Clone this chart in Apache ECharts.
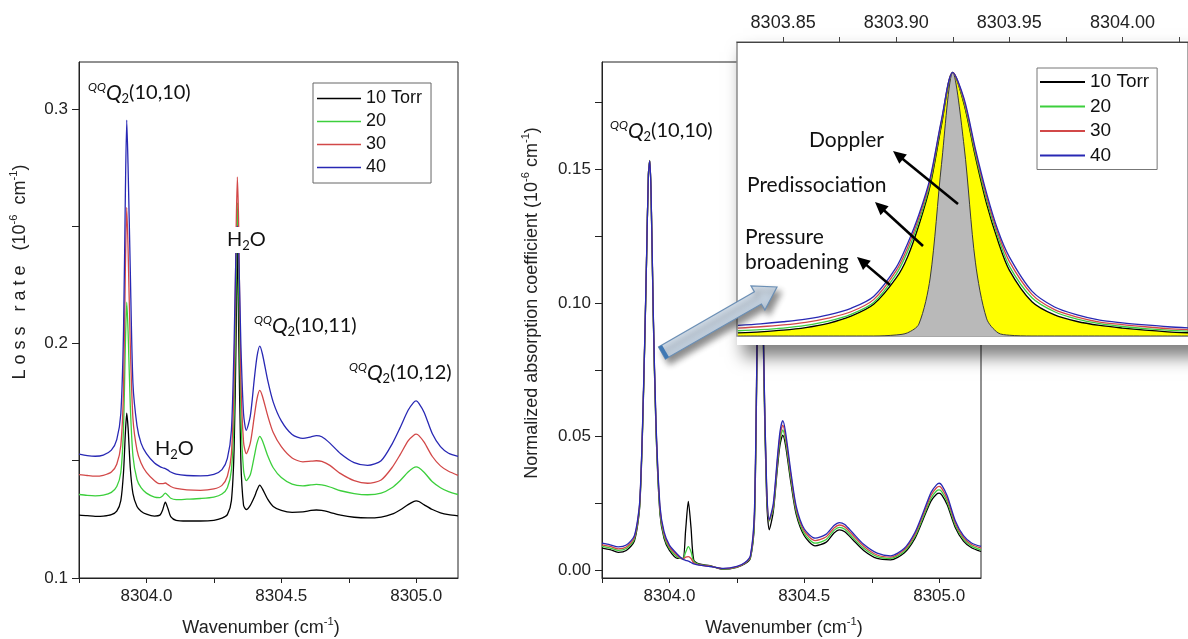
<!DOCTYPE html>
<html><head><meta charset="utf-8">
<script src="https://cdn.jsdelivr.net/npm/echarts@6/dist/echarts.min.js"></script>
<style>html,body{margin:0;padding:0;background:#fff}#c{width:1188px;height:639px}</style>
</head><body><div id="c"></div>
<script>
// ---------- DATA ----------
const seriesNames = ['10 Torr', '20', '30', '40'];

const wavenumber = [8303.75, 8303.78, 8303.81, 8303.84, 8303.87, 8303.89, 8303.905, 8303.915, 8303.922, 8303.927,
  8303.932, 8303.94, 8303.95, 8303.965, 8303.98, 8304.00, 8304.03, 8304.05, 8304.06, 8304.07,
  8304.08, 8304.09, 8304.11, 8304.15, 8304.20, 8304.25, 8304.28, 8304.30, 8304.315, 8304.325,
  8304.332, 8304.337, 8304.342, 8304.35, 8304.36, 8304.37, 8304.385, 8304.40, 8304.41, 8304.42,
  8304.43, 8304.45, 8304.47, 8304.50, 8304.54, 8304.58, 8304.61, 8304.63, 8304.65, 8304.68,
  8304.72, 8304.77, 8304.82, 8304.87, 8304.91, 8304.94, 8304.97, 8304.99, 8305.00, 8305.01,
  8305.03, 8305.06, 8305.09, 8305.12, 8305.155];

// Left panel: loss rate (10^-6 cm^-1)
const loss10 = [0.1268, 0.1266, 0.1263, 0.1264, 0.1270, 0.1285, 0.1330, 0.1450, 0.1620, 0.1703,
  0.1640, 0.1470, 0.1360, 0.1305, 0.1285, 0.1272, 0.1264, 0.1268, 0.1290, 0.1323,
  0.1295, 0.1262, 0.1246, 0.1243, 0.1243, 0.1246, 0.1255, 0.1270, 0.1330, 0.1550,
  0.2000, 0.2450, 0.2050, 0.1500, 0.1310, 0.1292, 0.1310, 0.1345, 0.1375, 0.1396,
  0.1380, 0.1335, 0.1305, 0.1288, 0.1280, 0.1282, 0.1288, 0.1290, 0.1288, 0.1280,
  0.1268, 0.1259, 0.1256, 0.1260, 0.1272, 0.1290, 0.1313, 0.1326, 0.1329, 0.1326,
  0.1312, 0.1292, 0.1278, 0.1270, 0.1265];
const loss20 = [0.1356, 0.1352, 0.1350, 0.1353, 0.1365, 0.1390, 0.1450, 0.1640, 0.2000, 0.2176,
  0.2050, 0.1740, 0.1520, 0.1420, 0.1385, 0.1362, 0.1345, 0.1343, 0.1350, 0.1362,
  0.1352, 0.1340, 0.1334, 0.1336, 0.1339, 0.1345, 0.1358, 0.1385, 0.1460, 0.1700,
  0.2250, 0.2600, 0.2300, 0.1700, 0.1460, 0.1415, 0.1440, 0.1520, 0.1575, 0.1604,
  0.1585, 0.1520, 0.1470, 0.1428, 0.1400, 0.1393, 0.1397, 0.1399, 0.1397, 0.1388,
  0.1372, 0.1360, 0.1355, 0.1362, 0.1385, 0.1415, 0.1452, 0.1470, 0.1474, 0.1470,
  0.1450, 0.1410, 0.1385, 0.1368, 0.1356];
const loss30 = [0.1441, 0.1437, 0.1434, 0.1438, 0.1452, 0.1485, 0.1565, 0.1800, 0.2330, 0.2580,
  0.2400, 0.2000, 0.1680, 0.1545, 0.1490, 0.1450, 0.1415, 0.1402, 0.1402, 0.1405,
  0.1398, 0.1390, 0.1382, 0.1376, 0.1374, 0.1380, 0.1395, 0.1434, 0.1530, 0.1850,
  0.2450, 0.2710, 0.2500, 0.1850, 0.1580, 0.1530, 0.1575, 0.1690, 0.1765, 0.1800,
  0.1775, 0.1690, 0.1620, 0.1560, 0.1512, 0.1495, 0.1498, 0.1500, 0.1497, 0.1480,
  0.1445, 0.1415, 0.1404, 0.1418, 0.1470, 0.1525, 0.1585, 0.1608, 0.1613, 0.1607,
  0.1578, 0.1518, 0.1478, 0.1455, 0.1438];
const loss40 = [0.1528, 0.1522, 0.1519, 0.1524, 0.1545, 0.1590, 0.1700, 0.2050, 0.2650, 0.2952,
  0.2750, 0.2320, 0.1830, 0.1650, 0.1575, 0.1530, 0.1490, 0.1475, 0.1470, 0.1466,
  0.1460, 0.1452, 0.1443, 0.1437, 0.1435, 0.1442, 0.1462, 0.1510, 0.1630, 0.2000,
  0.2400, 0.2500, 0.2400, 0.2000, 0.1700, 0.1630, 0.1690, 0.1850, 0.1945, 0.1989,
  0.1955, 0.1840, 0.1750, 0.1670, 0.1612, 0.1595, 0.1602, 0.1607, 0.1602, 0.1575,
  0.1530, 0.1492, 0.1480, 0.1500, 0.1570, 0.1640, 0.1715, 0.1748, 0.1755, 0.1745,
  0.1705, 0.1615, 0.1560, 0.1532, 0.1519];

// Right panel: normalized absorption coefficient (10^-6 cm^-1)
const abs10 = [0.0084, 0.0078, 0.0068, 0.0075, 0.0110, 0.0240, 0.0700, 0.1150, 0.1480, 0.1530,
  0.1400, 0.0950, 0.0530, 0.0210, 0.0120, 0.0075, 0.0045, 0.0045, 0.0150, 0.0258,
  0.0160, 0.0040, 0.0025, 0.0018, 0.0005, 0.0012, 0.0025, 0.0045, 0.0180, 0.0830,
  0.1380, 0.1700, 0.1330, 0.0730, 0.0280, 0.0152, 0.0220, 0.0380, 0.0470, 0.0506,
  0.0470, 0.0330, 0.0210, 0.0130, 0.0092, 0.0105, 0.0140, 0.0152, 0.0145, 0.0115,
  0.0075, 0.0045, 0.0040, 0.0065, 0.0120, 0.0190, 0.0260, 0.0285, 0.0289, 0.0282,
  0.0245, 0.0160, 0.0110, 0.0085, 0.0071];
const abs20 = [0.0090, 0.0084, 0.0075, 0.0082, 0.0117, 0.0247, 0.0707, 0.1153, 0.1480, 0.1532,
  0.1403, 0.0957, 0.0540, 0.0220, 0.0128, 0.0082, 0.0050, 0.0044, 0.0068, 0.0089,
  0.0070, 0.0034, 0.0023, 0.0017, 0.0006, 0.0013, 0.0027, 0.0048, 0.0190, 0.0860,
  0.1400, 0.1700, 0.1330, 0.0760, 0.0310, 0.0185, 0.0230, 0.0395, 0.0487, 0.0525,
  0.0487, 0.0344, 0.0220, 0.0138, 0.0102, 0.0115, 0.0150, 0.0161, 0.0154, 0.0123,
  0.0083, 0.0052, 0.0045, 0.0071, 0.0127, 0.0198, 0.0270, 0.0297, 0.0301, 0.0294,
  0.0256, 0.0168, 0.0117, 0.0091, 0.0077];
const abs30 = [0.0096, 0.0090, 0.0081, 0.0088, 0.0123, 0.0253, 0.0713, 0.1156, 0.1480, 0.1531,
  0.1406, 0.0963, 0.0550, 0.0230, 0.0137, 0.0088, 0.0055, 0.0043, 0.0050, 0.0052,
  0.0045, 0.0029, 0.0021, 0.0016, 0.0007, 0.0014, 0.0028, 0.0052, 0.0205, 0.0865,
  0.1410, 0.1700, 0.1340, 0.0770, 0.0320, 0.0188, 0.0240, 0.0408, 0.0503, 0.0543,
  0.0503, 0.0357, 0.0230, 0.0147, 0.0112, 0.0125, 0.0159, 0.0170, 0.0163, 0.0132,
  0.0091, 0.0058, 0.0050, 0.0077, 0.0135, 0.0207, 0.0281, 0.0309, 0.0314, 0.0306,
  0.0267, 0.0177, 0.0124, 0.0097, 0.0084];
const abs40 = [0.0102, 0.0096, 0.0088, 0.0095, 0.0130, 0.0260, 0.0720, 0.1160, 0.1480, 0.1530,
  0.1410, 0.0970, 0.0560, 0.0240, 0.0145, 0.0095, 0.0060, 0.0042, 0.0038, 0.0035,
  0.0030, 0.0025, 0.0020, 0.0015, 0.0008, 0.0015, 0.0030, 0.0055, 0.0220, 0.0870,
  0.1420, 0.1700, 0.1350, 0.0780, 0.0330, 0.0190, 0.0250, 0.0420, 0.0520, 0.0560,
  0.0520, 0.0370, 0.0240, 0.0155, 0.0121, 0.0135, 0.0168, 0.0179, 0.0172, 0.0140,
  0.0098, 0.0065, 0.0055, 0.0082, 0.0142, 0.0215, 0.0292, 0.0320, 0.0326, 0.0318,
  0.0278, 0.0185, 0.0130, 0.0103, 0.0090];

// Inset: zoom on the QQQ2(10,10) line (normalized to peak)
const insetWavenumber = [8303.83, 8303.84, 8303.85, 8303.86, 8303.87, 8303.88, 8303.89, 8303.90, 8303.905, 8303.91,
  8303.915, 8303.92, 8303.925, 8303.93, 8303.935, 8303.94, 8303.945, 8303.95, 8303.96, 8303.97,
  8303.98, 8303.99, 8304.00, 8304.01, 8304.02, 8304.03];
const doppler = [0, 0, 0, 0, 0, 0, 0, 0.004, 0.012, 0.045,
  0.22, 0.65, 1.0, 0.72, 0.28, 0.065, 0.012, 0.003, 0, 0,
  0, 0, 0, 0, 0, 0];
const inset10 = [0.012, 0.016, 0.022, 0.032, 0.048, 0.075, 0.12, 0.22, 0.30, 0.42,
  0.57, 0.80, 1.0, 0.88, 0.68, 0.50, 0.36, 0.25, 0.13, 0.08,
  0.055, 0.04, 0.03, 0.022, 0.016, 0.012];
const inset20 = [0.020, 0.024, 0.030, 0.040, 0.056, 0.082, 0.127, 0.235, 0.32, 0.435,
  0.58, 0.81, 1.0, 0.885, 0.69, 0.515, 0.375, 0.265, 0.145, 0.092,
  0.064, 0.047, 0.036, 0.028, 0.022, 0.018];
const inset30 = [0.030, 0.035, 0.042, 0.052, 0.068, 0.092, 0.138, 0.248, 0.335, 0.448,
  0.59, 0.815, 1.0, 0.892, 0.70, 0.527, 0.388, 0.283, 0.158, 0.10,
  0.072, 0.053, 0.043, 0.035, 0.028, 0.024];
const inset40 = [0.040, 0.046, 0.054, 0.064, 0.080, 0.105, 0.15, 0.26, 0.35, 0.46,
  0.60, 0.82, 1.0, 0.90, 0.71, 0.54, 0.40, 0.30, 0.17, 0.11,
  0.08, 0.06, 0.05, 0.042, 0.035, 0.03];

// Tick positions / labels
const mainXTicks = [8303.75, 8304.0, 8304.25, 8304.5, 8304.75, 8305.0];
const mainXLabels = [8304.0, 8304.5, 8305.0];
const lossYTicks = [0.1, 0.15, 0.2, 0.25, 0.3];
const lossYLabels = [0.1, 0.2, 0.3];
const absYTicks = [0, 0.025, 0.05, 0.075, 0.1, 0.125, 0.15, 0.175];
const absYLabels = [0, 0.05, 0.1, 0.15];
const insetXTicks = [8303.85, 8303.875, 8303.9, 8303.925, 8303.95, 8303.975, 8304.0, 8304.025];
const insetXLabels = [8303.85, 8303.9, 8303.95, 8304.0];

// ---------- STYLE ----------
const colors = ['#000000', '#3ccf3c', '#d24848', '#2828b4'];
const AX = '#222';
const ARIAL = 'Liberation Sans, Arial, sans-serif';
const CAL = 'Lato, Carlito, sans-serif';
const zip = (xs, ys) => xs.map((x, i) => [x, ys[i]]);

function mainX(grid, min, max) {
  return {
    gridIndex: grid, type: 'value', min: min, max: max,
    axisLine: { show: true, onZero: false, lineStyle: { color: AX, width: 1 } },
    axisTick: { show: true, customValues: mainXTicks, length: 5, lineStyle: { color: AX } },
    axisLabel: { customValues: mainXLabels, formatter: v => v.toFixed(1), fontSize: 17, color: '#222', fontFamily: ARIAL, margin: 10 },
    splitLine: { show: false }
  };
}
function mainY(grid, min, max, ticks, labels, dec) {
  return {
    gridIndex: grid, type: 'value', min: min, max: max,
    axisLine: { show: true, onZero: false, lineStyle: { color: AX, width: 1 } },
    axisTick: { show: true, customValues: ticks, length: 7, lineStyle: { color: AX } },
    axisLabel: { customValues: labels, formatter: v => v.toFixed(dec), fontSize: 17, color: '#222', fontFamily: ARIAL, margin: 11 },
    splitLine: { show: false }
  };
}

const series = [];
const lossData = [loss10, loss20, loss30, loss40];
const absData = [abs10, abs20, abs30, abs40];
const insetData = [inset10, inset20, inset30, inset40];
seriesNames.forEach((n, i) => {
  series.push({
    type: 'line', name: n, xAxisIndex: 0, yAxisIndex: 0, data: zip(wavenumber, lossData[i]),
    symbol: 'none', smooth: 0.25, lineStyle: { color: colors[i], width: 1.3 }, itemStyle: { color: colors[i] }, z: 2
  });
});
seriesNames.forEach((n, i) => {
  series.push({
    type: 'line', name: n, xAxisIndex: 1, yAxisIndex: 1, data: zip(wavenumber, absData[i]),
    symbol: 'none', smooth: 0.25, lineStyle: { color: colors[i], width: 1.3 }, itemStyle: { color: colors[i] }, z: 2
  });
});
// inset: 10 Torr with yellow fill, then Doppler gray, then others
series.push({
  type: 'line', name: seriesNames[0], xAxisIndex: 2, yAxisIndex: 2, data: zip(insetWavenumber, inset10),
  symbol: 'none', smooth: 0.3, lineStyle: { color: '#000', width: 1.3 }, itemStyle: { color: '#000' },
  areaStyle: { color: '#ffff00', opacity: 1 }, z: 5
});
series.push({
  type: 'line', name: 'Doppler', xAxisIndex: 2, yAxisIndex: 2, data: zip(insetWavenumber, doppler),
  symbol: 'none', smooth: 0.3, lineStyle: { color: '#3a3a3a', width: 1 }, itemStyle: { color: '#b9b9b9' },
  areaStyle: { color: '#b9b9b9', opacity: 1 }, z: 6
});
[1, 2, 3].forEach(i => {
  series.push({
    type: 'line', name: seriesNames[i], xAxisIndex: 2, yAxisIndex: 2, data: zip(insetWavenumber, insetData[i]),
    symbol: 'none', smooth: 0.3, lineStyle: { color: colors[i], width: 1.3 }, itemStyle: { color: colors[i] }, z: 7
  });
});

function richLabel(x, y, parts, size, bg) {
  return {
    type: 'text', x: x, y: y, z: 20,
    style: {
      text: parts, align: 'left', verticalAlign: 'middle',
      backgroundColor: bg || 'transparent', padding: bg ? [1, 1, 1, 1] : 0,
      rich: {
        s: { fontSize: size * 0.6, fontStyle: 'italic', fontFamily: CAL, fill: '#111', lineHeight: 10, verticalAlign: 'top' },
        q: { fontSize: size * 1.05, fontStyle: 'italic', fontFamily: CAL, fill: '#111', lineHeight: size + 4, verticalAlign: 'middle' },
        b: { fontSize: size * 0.65, fontFamily: CAL, fill: '#111', lineHeight: 10, verticalAlign: 'bottom' },
        n: { fontSize: size, fontFamily: CAL, fill: '#111', lineHeight: size + 4, verticalAlign: 'middle' }
      }
    }
  };
}
function axTitle(x, y, parts, rot, size) {
  return {
    type: 'text', x: x, y: y, rotation: rot, z: 20,
    style: {
      text: parts, align: 'center', verticalAlign: 'middle',
      rich: {
        n: { fontSize: size, fontFamily: ARIAL, fill: '#222', lineHeight: size + 6, verticalAlign: 'middle' },
        s: { fontSize: size * 0.62, fontFamily: ARIAL, fill: '#222', lineHeight: 9, verticalAlign: 'top' }
      }
    }
  };
}
function blackArrow(x1, y1, x2, y2) {
  const dx = x2 - x1, dy = y2 - y1, L = Math.hypot(dx, dy);
  const ux = dx / L, uy = dy / L, nx = -uy, ny = ux;
  const hl = 13, hw = 6;
  const bx = x2 - ux * hl, by = y2 - uy * hl;
  return [
    { type: 'line', z: 21, shape: { x1: x1, y1: y1, x2: bx + ux * 2, y2: by + uy * 2 }, style: { stroke: '#000', lineWidth: 2.6 } },
    { type: 'polygon', z: 21, shape: { points: [[x2, y2], [bx + nx * hw, by + ny * hw], [bx - nx * hw, by - ny * hw]] }, style: { fill: '#000' } }
  ];
}
function bigArrow() {
  const T = [662, 353], H = [777, 287];
  const dx = H[0] - T[0], dy = H[1] - T[1], L = Math.hypot(dx, dy);
  const ux = dx / L, uy = dy / L, nx = -uy, ny = ux;
  const hl = 22, bw = 7, hw = 14;
  const N = [H[0] - ux * hl, H[1] - uy * hl];
  const pts = [
    [T[0] + nx * bw, T[1] + ny * bw], [N[0] + nx * bw, N[1] + ny * bw], [N[0] + nx * hw, N[1] + ny * hw],
    H, [N[0] - nx * hw, N[1] - ny * hw], [N[0] - nx * bw, N[1] - ny * bw], [T[0] - nx * bw, T[1] - ny * bw]
  ];
  return [
    { type: 'polygon', z: 22, shape: { points: pts },
      style: { fill: { type: 'linear', x: 0, y: 0, x2: 0.35, y2: 1, colorStops: [{ offset: 0, color: '#f7f9fb' }, { offset: 0.5, color: '#dde5ee' }, { offset: 1, color: '#a9bccf' }] },
        stroke: '#6b8fb5', lineWidth: 1.2, shadowBlur: 6, shadowColor: 'rgba(0,0,0,0.45)', shadowOffsetX: 4, shadowOffsetY: 5 } },
    { type: 'line', z: 23, shape: { x1: T[0] + nx * bw + ux * 2, y1: T[1] + ny * bw + uy * 2, x2: T[0] - nx * bw + ux * 2, y2: T[1] - ny * bw + uy * 2 },
      style: { stroke: '#3f78b4', lineWidth: 4 } }
  ];
}

const graphics = [
  // inset backing card with drop shadow
  { type: 'rect', z: 3, shape: { x: 737, y: 40, width: 470, height: 305 },
    style: { fill: '#fff', shadowBlur: 16, shadowColor: 'rgba(0,0,0,0.5)', shadowOffsetX: 6, shadowOffsetY: 12 } },
  richLabel(88, 93, '{s|QQ}{q|Q}{b|2}{n|(10,10)}', 20),
  richLabel(226, 240, '{n|H}{b|2}{n|O}', 20, '#fff'),
  richLabel(254, 326, '{s|QQ}{q|Q}{b|2}{n|(10,11)}', 20),
  richLabel(349, 373, '{s|QQ}{q|Q}{b|2}{n|(10,12)}', 20),
  richLabel(155, 449, '{n|H}{b|2}{n|O}', 20),
  richLabel(610, 131, '{s|QQ}{q|Q}{b|2}{n|(10,10)}', 20),
  axTitle(20, 272, '{n|L o s s   r a t e   (10}{s|-6}{n|  cm}{s|-1}{n|)}', Math.PI / 2, 18),
  axTitle(532, 303, '{n|Normalized absorption coefficient (10}{s|-6}{n| cm}{s|-1}{n|)}', Math.PI / 2, 18),
  axTitle(261, 628, '{n|Wavenumber (cm}{s|-1}{n|)}', 0, 18),
  axTitle(784, 628, '{n|Wavenumber (cm}{s|-1}{n|)}', 0, 18),
  { type: 'text', x: 809, y: 140, z: 20, style: { text: 'Doppler', fontSize: 21, fontFamily: CAL, fill: '#111', verticalAlign: 'middle' } },
  { type: 'text', x: 747, y: 185, z: 20, style: { text: 'Predissociation', fontSize: 21, fontFamily: CAL, fill: '#111', verticalAlign: 'middle' } },
  { type: 'text', x: 745, y: 250, z: 20, style: { text: 'Pressure\nbroadening', fontSize: 21, lineHeight: 25, fontFamily: CAL, fill: '#111', verticalAlign: 'middle' } }
].concat(blackArrow(958, 204, 893, 151), blackArrow(923, 246, 875, 202), blackArrow(890, 285, 857, 257), bigArrow());

const option = {
  animation: false,
  backgroundColor: '#fff',
  grid: [
    { left: 79, top: 62, width: 379, height: 516, show: true, borderColor: AX, borderWidth: 1, backgroundColor: 'transparent' },
    { left: 602, top: 62, width: 379, height: 516, show: true, borderColor: AX, borderWidth: 1, backgroundColor: 'transparent' },
    { left: 737, top: 42, width: 451, height: 294, show: true, borderColor: '#8c8c8c', borderWidth: 1.5, backgroundColor: 'transparent', z: 4 }
  ],
  xAxis: [
    mainX(0, 8303.75, 8305.155),
    mainX(1, 8303.75, 8305.155),
    {
      gridIndex: 2, type: 'value', position: 'top', min: 8303.8296, max: 8304.029, z: 10,
      axisLine: { show: true, onZero: false, lineStyle: { color: '#444', width: 1 } },
      axisTick: { show: true, customValues: insetXTicks, length: 5, lineStyle: { color: '#444' } },
      axisLabel: { customValues: insetXLabels, formatter: v => v.toFixed(2), fontSize: 18, color: '#222', fontFamily: ARIAL, margin: 10 },
      splitLine: { show: false }
    }
  ],
  yAxis: [
    mainY(0, 0.1, 0.32, lossYTicks, lossYLabels, 1),
    mainY(1, -0.0028, 0.19, absYTicks, absYLabels, 2),
    { gridIndex: 2, type: 'value', min: 0, max: 1.115, show: false }
  ],
  legend: [
    { left: 313, top: 83, orient: 'vertical', data: seriesNames, icon: 'rect', itemWidth: 44, itemHeight: 1.5, itemGap: 4,
      padding: [6, 9, 6, 4], borderColor: '#666', borderWidth: 1, selectedMode: false,
      textStyle: { fontSize: 18, lineHeight: 19, color: '#111', fontFamily: ARIAL } },
    { left: 1037, top: 68, orient: 'vertical', data: seriesNames, icon: 'rect', itemWidth: 45, itemHeight: 1.8, itemGap: 4.5, z: 12,
      padding: [4, 8, 4, 3], borderColor: '#777', borderWidth: 1, selectedMode: false, backgroundColor: '#fff',
      textStyle: { fontSize: 19, lineHeight: 20, color: '#111', fontFamily: ARIAL } }
  ],
  graphic: { elements: graphics },
  series: series
};
const chart = echarts.init(document.getElementById('c'), null, { renderer: 'canvas' });
chart.setOption(option);
</script></body></html>
